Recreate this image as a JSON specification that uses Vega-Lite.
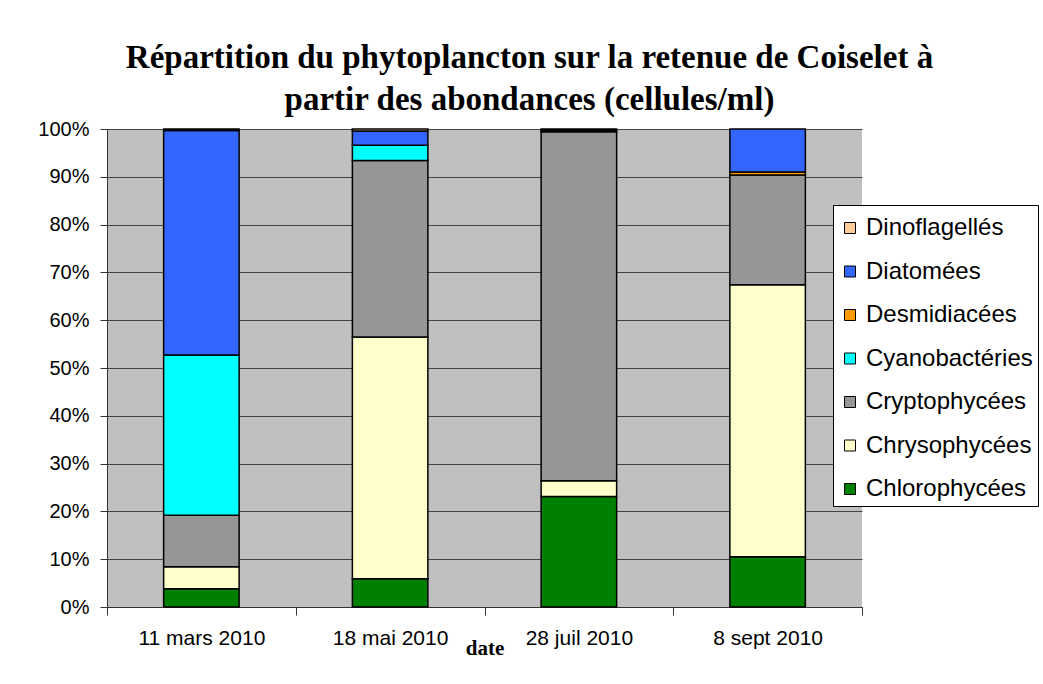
{
  "$schema": "https://vega.github.io/schema/vega-lite/v6.json",
  "width": 755,
  "height": 478,
  "autosize": {"type": "none"},
  "padding": {"left": 107, "top": 129, "right": 181, "bottom": 77},
  "background": "white",
  "title": {
    "text": ["Répartition du phytoplancton sur la retenue de Coiselet à", "partir des abondances (cellules/ml)"],
    "font": "Liberation Serif",
    "fontSize": 33,
    "fontWeight": "bold",
    "color": "black",
    "lineHeight": 42,
    "anchor": "middle",
    "frame": "group",
    "dx": 45,
    "offset": 2
  },
  "data": {
    "values": [
      {"date": "11 mars 2010", "groupe": "Chlorophycées", "valeur": 3.8},
      {"date": "11 mars 2010", "groupe": "Chrysophycées", "valeur": 4.6},
      {"date": "11 mars 2010", "groupe": "Cryptophycées", "valeur": 10.8},
      {"date": "11 mars 2010", "groupe": "Cyanobactéries", "valeur": 33.5},
      {"date": "11 mars 2010", "groupe": "Diatomées", "valeur": 47.0},
      {"date": "11 mars 2010", "groupe": "Dinoflagellés", "valeur": 0.3},
      {"date": "18 mai 2010", "groupe": "Chlorophycées", "valeur": 5.9},
      {"date": "18 mai 2010", "groupe": "Chrysophycées", "valeur": 50.6},
      {"date": "18 mai 2010", "groupe": "Cryptophycées", "valeur": 36.9},
      {"date": "18 mai 2010", "groupe": "Cyanobactéries", "valeur": 3.2},
      {"date": "18 mai 2010", "groupe": "Diatomées", "valeur": 3.0},
      {"date": "18 mai 2010", "groupe": "Dinoflagellés", "valeur": 0.4},
      {"date": "28 juil 2010", "groupe": "Chlorophycées", "valeur": 23.1},
      {"date": "28 juil 2010", "groupe": "Chrysophycées", "valeur": 3.3},
      {"date": "28 juil 2010", "groupe": "Cryptophycées", "valeur": 73.0},
      {"date": "28 juil 2010", "groupe": "Diatomées", "valeur": 0.3},
      {"date": "28 juil 2010", "groupe": "Dinoflagellés", "valeur": 0.3},
      {"date": "8 sept 2010", "groupe": "Chlorophycées", "valeur": 10.5},
      {"date": "8 sept 2010", "groupe": "Chrysophycées", "valeur": 56.9},
      {"date": "8 sept 2010", "groupe": "Cryptophycées", "valeur": 23.0},
      {"date": "8 sept 2010", "groupe": "Desmidiacées", "valeur": 0.6},
      {"date": "8 sept 2010", "groupe": "Diatomées", "valeur": 9.0}
    ]
  },
  "mark": {"type": "bar", "stroke": "black", "strokeWidth": 1.5, "width": {"band": 0.4}},
  "encoding": {
    "x": {
      "field": "date",
      "type": "nominal",
      "sort": ["11 mars 2010", "18 mai 2010", "28 juil 2010", "8 sept 2010"],
      "scale": {"paddingInner": 0, "paddingOuter": 0},
      "axis": {
        "title": "date",
        "titleFont": "Liberation Serif",
        "titleFontWeight": "bold",
        "titleFontSize": 21,
        "titleColor": "black",
        "titlePadding": -11,
        "labelAngle": 0,
        "labelFont": "Liberation Sans",
        "labelFontSize": 21,
        "labelColor": "black",
        "labelPadding": 12,
        "tickBand": "extent",
        "tickSize": 8,
        "tickColor": "#333",
        "domainColor": "#333",
        "grid": false
      }
    },
    "y": {
      "field": "valeur",
      "type": "quantitative",
      "stack": "normalize",
      "scale": {"domain": [0, 1], "nice": false},
      "axis": {
        "title": null,
        "format": ".0%",
        "values": [0, 0.1, 0.2, 0.3, 0.4, 0.5, 0.6, 0.7, 0.8, 0.9, 1],
        "labelFont": "Liberation Sans",
        "labelFontSize": 20,
        "labelColor": "black",
        "labelPadding": 11,
        "tickSize": 7,
        "tickColor": "#333",
        "domainColor": "#333",
        "grid": true,
        "gridColor": "#444",
        "gridWidth": 1
      }
    },
    "color": {
      "field": "groupe",
      "type": "nominal",
      "scale": {
        "domain": ["Dinoflagellés", "Diatomées", "Desmidiacées", "Cyanobactéries", "Cryptophycées", "Chrysophycées", "Chlorophycées"],
        "range": ["#FFCC99", "#3366FF", "#FF9900", "#00FFFF", "#969696", "#FFFFCC", "#008000"]
      },
      "legend": {
        "title": " ",
        "titleFontSize": 5,
        "titlePadding": 1,
        "orient": "none",
        "legendX": 726,
        "legendY": 76,
        "fillColor": "white",
        "strokeColor": "#000",
        "padding": 5,
        "rowPadding": 19.5,
        "symbolType": "square",
        "symbolSize": 121,
        "symbolStrokeColor": "black",
        "symbolStrokeWidth": 1,
        "labelFont": "Liberation Sans",
        "labelFontSize": 24,
        "labelColor": "black",
        "labelOffset": 4,
        "labelLimit": 400
      }
    },
    "order": {"field": "groupe", "sort": "ascending"}
  },
  "config": {
    "view": {"fill": "#C0C0C0", "stroke": null}
  }
}
